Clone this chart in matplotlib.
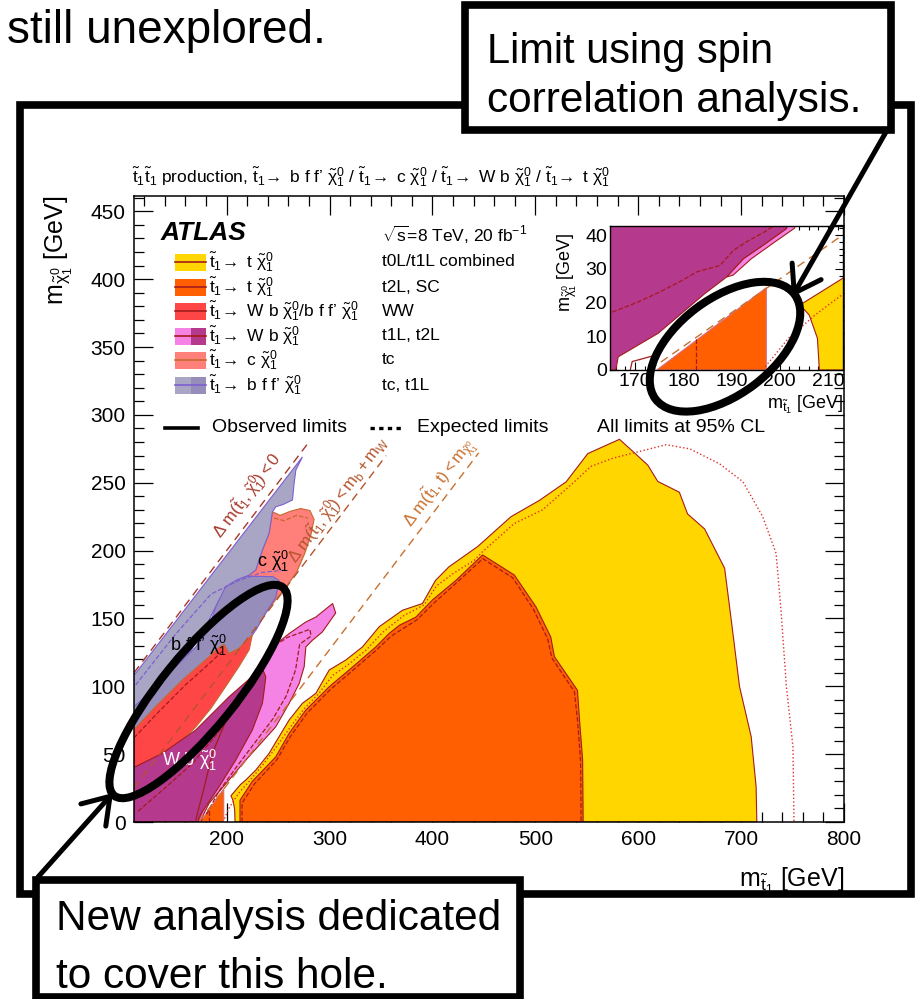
import matplotlib
matplotlib.use("Agg")
import matplotlib.pyplot as plt
from matplotlib.patches import Polygon, Rectangle, Ellipse, FancyArrowPatch, ArrowStyle
from matplotlib.ticker import MultipleLocator

plt.rcParams['font.family'] = ['Liberation Sans', 'DejaVu Sans']
plt.rcParams['mathtext.fontset'] = 'custom'
plt.rcParams['mathtext.rm'] = 'Liberation Sans'
plt.rcParams['mathtext.it'] = 'Liberation Sans'
plt.rcParams['mathtext.bf'] = 'Liberation Sans:bold'
plt.rcParams['mathtext.sf'] = 'Liberation Sans'

# ---------------------------------------------------------------------------
# exclusion contours, (m_stop, m_neutralino) in GeV
# ---------------------------------------------------------------------------
YELLOW_OBS = [(208.2, 0), (207.8, 9.4), (206.1, 16.3), (204.2, 19.3), (213.5, 27.6), (218.7, 31),
              (228.4, 38.3), (241.3, 50.6), (251, 62.9), (260.8, 75.2), (273.7, 87.5), (286.7, 94.8),
              (299.7, 112), (315.9, 119.4), (332, 129), (348.3, 143.9), (370.8, 156), (390.3, 161),
              (403, 178), (416, 188), (444, 203), (476.4, 225), (504, 237), (530, 250.7), (551, 271.5),
              (581.8, 282), (596.4, 272), (609.3, 263), (619, 251), (640, 243), (648, 227), (664.5, 216),
              (684, 187), (690.4, 149), (698.5, 99.7), (709.8, 62.9), (714.6, 26), (715.3, 0)]
YELLOW_EXP = [(196.5, 0), (201.8, 9.4), (207.3, 16.3), (212.8, 22.2), (222, 30), (235, 42), (248, 55),
              (262, 70), (276, 84), (290, 95), (303, 108), (320, 117), (336, 127), (352, 140), (372, 152),
              (392, 160), (404, 174), (420, 183), (441, 193), (448.5, 199), (479.6, 220), (507, 230),
              (536.4, 249.6), (554, 262), (575, 268), (601, 273), (627, 278), (650, 275), (679, 264),
              (701.7, 250.8), (721, 225), (734, 198), (739, 153.8), (744, 99.7), (750.4, 55.5), (751.4, 0)]
ORANGE_OBS = [(213, 0), (213, 16), (225, 30), (247.8, 48), (260.8, 65.4), (277, 82.5), (299.7, 99.7),
              (319, 112), (345, 129), (358, 139), (368, 145), (384, 151), (400, 163.6), (422.8, 178),
              (448.8, 196.8), (479.6, 182), (500.7, 158.5), (515, 136.4), (518.6, 121.8), (541, 97),
              (543, 75), (546, 45.7), (546.5, 0)]
ORANGE_EXP = [(215, 0), (215, 14), (227, 28), (249, 46), (262, 63), (278, 80), (300, 97), (320, 110),
              (346, 127), (360, 137), (385, 149), (401, 161), (423, 176), (449, 194), (478, 180),
              (498, 157), (512, 135), (516, 121), (538, 96), (541, 75), (544, 45), (544.5, 0)]
ORANGE_SC = [(174.5, 0), (197.2, 24.4), (197.2, 0)]
ORANGE_SC_EXP = [(182.6, 0), (182.6, 9.6)]

LAV_LIGHT = [(105, 60), (105, 104), (110, 108), (273.7, 269), (267.3, 259.4), (265.6, 249.6),
             (264, 237.3), (255, 234), (247.8, 232.3), (244.5, 228.6), (241.3, 212.7), (234.8, 200.4),
             (228.4, 185.7), (221.9, 182), (212, 178.5), (202.4, 173.3), (192.7, 163.6), (179.7, 144),
             (160, 120), (130, 90), (110, 80)]
LAV_DARK = [(105, 50), (105, 85), (110, 85), (124.6, 94.8), (147.3, 112), (170, 129), (183, 144),
            (189.5, 158.6), (199, 173.4), (210, 178.5), (219, 181), (230, 181), (245, 180.8), (251, 178),
            (248, 166), (238, 154), (228.4, 141.5), (220, 132), (205, 118), (190, 104), (170, 88),
            (150, 74), (130, 62), (110, 52)]
LAV_EXP = [(111.6, 101), (150, 138), (185, 168), (212, 178), (235, 184), (257.6, 185.7)]
SALMON = [(244.5, 228.6), (252, 226), (262, 229), (272, 231), (281, 229.5), (285, 223), (282, 212),
          (276, 198), (268, 184), (258, 173.4), (248, 164), (238, 154), (228.4, 141.5), (215, 150),
          (205, 168), (212, 178.5), (221.9, 182), (228.4, 185.7), (234.8, 200.4), (241.3, 212.7)]
SALMON_EXP = [(246, 224), (256, 222), (268, 226), (279, 224)]
RED_WW = [(105, 30), (105, 68), (110, 68), (131, 85), (157, 104.6), (183, 121.8), (193, 129),
          (197.5, 131), (202.4, 124.2), (212, 128), (225, 138), (222, 127), (212, 114.5),
          (199, 99.7), (185, 84), (170, 70), (150, 55), (130, 42), (110, 32)]
RED_EXP = [(110, 62), (135, 82), (160, 101), (185, 118), (196, 126)]
PINK = [(230, 100), (238, 119), (244.5, 129), (261, 139), (277, 147.4), (286.7, 151), (303, 161),
        (306, 154), (293, 140), (283.5, 134), (277, 129), (275.4, 114.5), (270.5, 102), (260.8, 87.5),
        (247.8, 70.2), (234.8, 59.2), (218.7, 45.7), (202.4, 31), (183, 13.8), (176.5, 3.9),
        (175.5, 0), (172, 0)]
PINK_EXP = [(238, 117), (247, 130), (259, 136), (270, 139), (281, 142), (282, 137), (271, 131),
            (267, 112), (258, 93), (245, 76), (230, 61), (210, 41), (192, 22), (180, 5)]
MAGENTA = [(105, 0), (105, 41), (111.6, 40.8), (137.5, 50.6), (170, 67.8), (202.4, 92.3), (220, 104),
           (230, 111), (234.8, 113), (238.1, 107), (236.5, 97), (234.8, 87.5), (225, 67.8),
           (208.9, 45.7), (192.7, 26), (179.7, 11.3), (173.3, 3.9), (172, 0)]
MAGENTA_EXP = [(114, 8), (140, 25), (168, 44), (196, 70), (218, 95), (230, 108)]
MAGENTA_T1L = [(170, 1.5), (178, 25), (186.2, 50.6), (205, 85), (228.4, 112)]

# kinematic boundaries: m_chi = m_stop - offset
KIN_OFFSETS = [0, 85, 173]

# zoomed region around m_stop ~ m_top
INSET_MAGENTA = [(160, 0), (166, 0), (166.5, 3.9), (174.8, 10.9), (184.5, 22.7), (189, 27.6),
                 (192.5, 33), (196.6, 37), (201.4, 41.9), (202, 45), (160, 45)]
INSET_PINK = [(189, 27.6), (190.3, 28.1), (194.1, 33), (199, 38), (203, 42), (204, 45), (202, 45),
              (201.4, 41.9), (196.6, 37), (192.5, 33)]
INSET_MAG_EXP = [(160, 15), (165.5, 17.3), (170, 19.8), (174.5, 22.7), (179.3, 26.2), (182.8, 29.1),
                 (187.6, 31), (190.4, 35.5), (193.1, 38), (196.9, 41), (199, 43)]
INSET_LINE2 = [(169, 0), (169.4, 2.5), (174.5, 4.5)]
INSET_YELLOW = [(208.2, 0), (207.8, 9.4), (206.1, 16.3), (204.2, 19.3), (213.5, 27.6), (216, 29), (216, 0)]
INSET_YEL_EXP = [(197, 1), (201.8, 9.4), (207.3, 16.3), (212.8, 22.2), (216, 25)]

LEG_LABELS = [r"$\tilde{t}_1\!\rightarrow$ t $\tilde{\chi}^0_1$",
              r"$\tilde{t}_1\!\rightarrow$ t $\tilde{\chi}^0_1$",
              r"$\tilde{t}_1\!\rightarrow$ W b $\tilde{\chi}^0_1$/b f f’ $\tilde{\chi}^0_1$",
              r"$\tilde{t}_1\!\rightarrow$ W b $\tilde{\chi}^0_1$",
              r"$\tilde{t}_1\!\rightarrow$ c $\tilde{\chi}^0_1$",
              r"$\tilde{t}_1\!\rightarrow$ b f f’ $\tilde{\chi}^0_1$"]
LEG_ANALYSES = ["t0L/t1L combined", "t2L, SC", "WW", "t1L, t2L", "tc", "tc, t1L"]

C_YEL, C_ORG, C_RED = '#ffd600', '#ff5f00', '#ff4646'
C_PINK, C_MAG, C_SAL = '#f582e5', '#b5398c', '#ff7f7a'
C_LAV1, C_LAV2 = '#a9a5c5', '#968dba'
C_DKRED, C_BROWN, C_PURP = '#a31c1c', '#c46a2e', '#7d5fcf'
KIN_COLORS = ['#a8382a', '#b4552c', '#c8702f']

LEG_FACES = [(C_YEL, C_YEL), (C_ORG, C_ORG), (C_RED, C_RED), (C_PINK, C_MAG), (C_SAL, C_SAL), (C_LAV1, C_LAV2)]
LEG_LINES = [C_DKRED, C_DKRED, C_DKRED, C_DKRED, C_BROWN, C_PURP]


def region(ax, pts, face, edge, lw=0.8, z=2):
    ax.add_patch(Polygon(pts, closed=True, facecolor=face, edgecolor=edge, lw=lw, zorder=z))


def contour(ax, pts, color, ls='--', lw=0.9, z=3):
    xs, ys = zip(*pts)
    ax.plot(xs, ys, color=color, ls=ls, lw=lw, zorder=z)


fig = plt.figure(figsize=(9.23, 9.99), dpi=100)

# ---------------------------------------------------------------------------
# main exclusion plane
# ---------------------------------------------------------------------------
ax = fig.add_axes([134 / 923, 1 - 822 / 999, 710 / 923, 626 / 999])
ax.set_xlim(110, 800)
ax.set_ylim(0, 461.3)

region(ax, YELLOW_OBS, C_YEL, C_DKRED)
contour(ax, YELLOW_EXP, '#e0302a', ls=':', lw=1.0)
region(ax, ORANGE_OBS, C_ORG, C_DKRED, z=3)
contour(ax, ORANGE_EXP, C_DKRED, z=4)
region(ax, ORANGE_SC, C_ORG, '#d86a80', z=3)
contour(ax, ORANGE_SC_EXP, C_DKRED, z=4)

region(ax, SALMON, C_SAL, C_BROWN)
contour(ax, SALMON_EXP, C_BROWN, z=3)
region(ax, LAV_LIGHT, C_LAV1, C_PURP, z=3)
region(ax, LAV_DARK, C_LAV2, C_PURP, z=3)
contour(ax, LAV_EXP, C_PURP, z=4)
region(ax, RED_WW, C_RED, C_BROWN, z=4)
contour(ax, RED_EXP, C_DKRED, z=4)
region(ax, PINK, C_PINK, C_DKRED, z=4)
contour(ax, PINK_EXP, C_DKRED, z=5)
region(ax, MAGENTA, C_MAG, C_DKRED, z=5)
contour(ax, MAGENTA_EXP, C_DKRED, z=6)
contour(ax, MAGENTA_T1L, C_DKRED, ls='-', z=6)

kin_top = [281, 355, 445]
for off, top, col in zip(KIN_OFFSETS, kin_top, KIN_COLORS):
    x0 = max(110, off)
    ax.plot([x0, top], [x0 - off, top - off], color=col, lw=1.0, ls=(0, (6, 4)), zorder=7)

kin_labels = [r"$\Delta\ \mathrm{m}(\tilde{t}_1,\tilde{\chi}^0_1) < 0$",
              r"$\Delta\ \mathrm{m}(\tilde{t}_1,\tilde{\chi}^0_1) < \mathrm{m_b} + \mathrm{m_W}$",
              r"$\Delta\ \mathrm{m}(\tilde{t}_1,\mathrm{t}) < \mathrm{m}_{\tilde{\chi}^0_1}$"]
kin_pos = [(220, 241), (308, 238), (407, 250)]
for lab, (lx, ly), col in zip(kin_labels, kin_pos, KIN_COLORS):
    ax.text(lx, ly, lab, color=col, fontsize=12, rotation=45, transform_rotates_text=True,
            rotation_mode='anchor', ha='center', va='center', zorder=8)

ax.text(245, 192, r"c $\tilde{\chi}^0_1$", fontsize=13, ha='center', va='center', zorder=8)
ax.text(173, 130, r"b f f’ $\tilde{\chi}^0_1$", fontsize=13, ha='center', va='center', zorder=8)
ax.text(164.5, 45, r"W b $\tilde{\chi}^0_1$", fontsize=13, color='white', ha='center', va='center', zorder=8)

ax.xaxis.set_major_locator(MultipleLocator(100))
ax.xaxis.set_minor_locator(MultipleLocator(20))
ax.yaxis.set_major_locator(MultipleLocator(50))
ax.yaxis.set_minor_locator(MultipleLocator(10))
ax.tick_params(which='both', direction='in', top=True, right=True, width=0.9)
ax.tick_params(which='major', length=14, labelsize=15, pad=6)
ax.tick_params(which='minor', length=7)
for s in ax.spines.values():
    s.set_linewidth(1.1)
    s.set_zorder(10)

ax.text(1.0, -0.094, r"m$_{\tilde{t}_1}$ [GeV]", transform=ax.transAxes, ha='right', va='center', fontsize=18)
ax.text(-0.106, 0.914, r"m$_{\tilde{\chi}^0_1}$ [GeV]", transform=ax.transAxes, rotation=90,
        ha='center', va='center', fontsize=18)
ax.text(-0.003, 1.03,
        r"$\tilde{t}_1\tilde{t}_1$ production, $\tilde{t}_1\!\rightarrow$ b f f’ $\tilde{\chi}^0_1$ / "
        r"$\tilde{t}_1\!\rightarrow$ c $\tilde{\chi}^0_1$ / $\tilde{t}_1\!\rightarrow$ W b $\tilde{\chi}^0_1$ / "
        r"$\tilde{t}_1\!\rightarrow$ t $\tilde{\chi}^0_1$",
        transform=ax.transAxes, ha='left', va='center', fontsize=12.5)


# legend, placed in pixel units of the frame
def fx(px):
    return (px - 134) / 710


def fy(py):
    return (822 - py) / 626


ax.text(fx(161), fy(233), "ATLAS", transform=ax.transAxes, fontsize=19, fontweight='bold',
        fontstyle='italic', va='center', ha='left')
ax.text(fx(382), fy(235), r"$\sqrt{s}$=8 TeV, 20 fb$^{-1}$", transform=ax.transAxes, fontsize=12.5,
        va='center', ha='left')
row_y = [262, 287, 311, 336, 360, 385]
for py, lab, ana, faces, lc in zip(row_y, LEG_LABELS, LEG_ANALYSES, LEG_FACES, LEG_LINES):
    for k, fc in enumerate(faces):
        ax.add_patch(Rectangle((fx(175 + 15.5 * k), fy(py + 8.5)), 15.5 / 710, 17 / 626,
                               transform=ax.transAxes, facecolor=fc, edgecolor='none', zorder=9))
    ax.plot([fx(175), fx(206)], [fy(py), fy(py)], transform=ax.transAxes, color=lc, lw=1.2, zorder=9)
    ax.text(fx(209), fy(py), lab, transform=ax.transAxes, fontsize=12.5, va='center', ha='left')
    ax.text(fx(382), fy(py), ana, transform=ax.transAxes, fontsize=12.5, va='center', ha='left')

ax.plot([fx(165), fx(198)], [fy(428), fy(428)], transform=ax.transAxes, color='black', lw=2.6)
ax.text(fx(212), fy(428), "Observed limits", transform=ax.transAxes, fontsize=14, va='center')
ax.plot([fx(370), fx(402)], [fy(428), fy(428)], transform=ax.transAxes, color='black', lw=2.4,
        ls=(0, (1.3, 1.3)))
ax.text(fx(417), fy(428), "Expected limits", transform=ax.transAxes, fontsize=14, va='center')
ax.text(fx(597), fy(428), "All limits at 95% CL", transform=ax.transAxes, fontsize=14, va='center')

# ---------------------------------------------------------------------------
# inset around m_stop ~ m_top
# ---------------------------------------------------------------------------
axi = fig.add_axes([610 / 923, 1 - 370 / 999, 233 / 923, 144 / 999])
axi.set_xlim(164.8, 213.1)
axi.set_ylim(0, 42.7)
axi.set_zorder(5)
region(axi, INSET_MAGENTA, C_MAG, C_DKRED)
region(axi, INSET_PINK, C_PINK, C_DKRED)
contour(axi, INSET_MAG_EXP, C_DKRED)
contour(axi, INSET_LINE2, C_DKRED, ls='-')
region(axi, ORANGE_SC, C_ORG, '#d86a80')
contour(axi, ORANGE_SC_EXP, C_DKRED)
region(axi, INSET_YELLOW, C_YEL, C_DKRED)
contour(axi, INSET_YEL_EXP, '#e0302a', ls=':', lw=1.0)
axi.plot([173, 216], [0, 43], color=KIN_COLORS[2], lw=1.0, ls=(0, (6, 4)), zorder=6)

axi.xaxis.set_major_locator(MultipleLocator(10))
axi.xaxis.set_minor_locator(MultipleLocator(2))
axi.yaxis.set_major_locator(MultipleLocator(10))
axi.yaxis.set_minor_locator(MultipleLocator(2))
axi.tick_params(which='both', direction='in', top=True, right=True, width=0.8)
axi.tick_params(which='major', length=6, labelsize=14, pad=2)
axi.tick_params(which='minor', length=3)
for s in axi.spines.values():
    s.set_linewidth(1.0)
    s.set_zorder(10)
axi.text(1.0, -0.24, r"m$_{\tilde{t}_1}$ [GeV]", transform=axi.transAxes, ha='right', va='center', fontsize=13)
axi.text(-0.185, 0.68, r"m$_{\tilde{\chi}^0_1}$ [GeV]", transform=axi.transAxes, rotation=90,
         ha='center', va='center', fontsize=13)

# ---------------------------------------------------------------------------
# annotations drawn on top, in pixel units (origin bottom-left)
# ---------------------------------------------------------------------------
ov = fig.add_axes([0, 0, 1, 1])
ov.set_xlim(0, 923)
ov.set_ylim(0, 999)
ov.axis('off')
ov.set_zorder(20)
ov.patch.set_alpha(0)

H = 999
ov.add_patch(Rectangle((20, H - 894), 891, 789, fill=False, lw=5.5, edgecolor='black', joinstyle='miter'))
ov.add_patch(Rectangle((465, H - 130), 426, 125, facecolor='white', lw=5.5, edgecolor='black', joinstyle='miter'))
ov.add_patch(Rectangle((36, H - 997), 484, 117, facecolor='white', lw=5.5, edgecolor='black', joinstyle='miter'))

ov.text(326, H - 43, "still unexplored.", fontsize=33, ha='right', va='baseline')
ov.text(487, H - 63, "Limit using spin", fontsize=30, ha='left', va='baseline')
ov.text(487, H - 112, "correlation analysis.", fontsize=30.5, ha='left', va='baseline')
ov.text(56, H - 930, "New analysis dedicated", fontsize=30.5, ha='left', va='baseline')
ov.text(56, H - 988, "to cover this hole.", fontsize=30.5, ha='left', va='baseline')

ov.add_patch(Ellipse((198.5, H - 691.5), 268, 74, angle=51, fill=False, lw=5.8, edgecolor='black'))
ov.add_patch(Ellipse((725, H - 346.7), 174, 96, angle=37, fill=False, lw=5.8, edgecolor='black'))

head = ArrowStyle('->', head_length=0.45, head_width=0.3)
ov.add_patch(FancyArrowPatch((886, H - 132), (792, H - 297), arrowstyle=head, mutation_scale=40,
                             lw=3.6, color='black', shrinkA=0, shrinkB=0))
ov.add_patch(FancyArrowPatch((38, H - 877), (113, H - 793), arrowstyle=head, mutation_scale=40,
                             lw=3.6, color='black', shrinkA=0, shrinkB=0))

fig.savefig("out.png", dpi=100)
